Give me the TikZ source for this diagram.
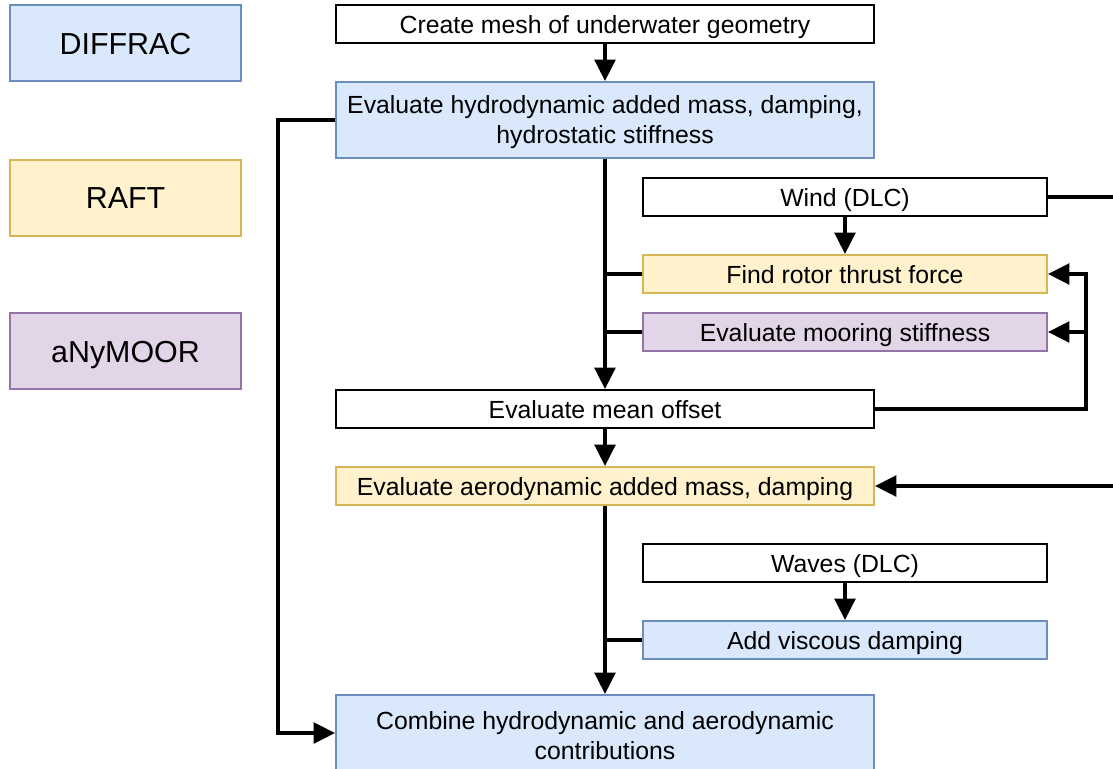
\documentclass[tikz,border=0pt]{standalone}
\usepackage{fontspec}
\setmainfont{Liberation Sans}
\usetikzlibrary{arrows.meta}
\definecolor{diffracfill}{HTML}{DAE8FC}
\definecolor{diffracline}{HTML}{6C8EBF}
\definecolor{raftfill}{HTML}{FFF2CC}
\definecolor{raftline}{HTML}{D6B656}
\definecolor{moorfill}{HTML}{E1D5E7}
\definecolor{moorline}{HTML}{9673A6}
\newcommand{\topstrut}{\rule{0pt}{17.2pt}}

\begin{document}
\begin{tikzpicture}[x=0.75pt, y=-0.75pt,
    box/.style={draw, line width=1.5pt, inner sep=0pt, align=center,
        font=\fontsize{18.6}{22.5}\selectfont, text height=17.7pt, text depth=3.9pt},
    wide/.style={box, minimum width=403.5pt, minimum height=28.5pt},
    side/.style={box, minimum width=303pt, minimum height=28.5pt},
    twoline/.style={minimum height=57pt, text height={}, text depth={}},
    legend/.style={box, minimum width=173.25pt, minimum height=57pt,
        font=\fontsize{22.8}{27}\selectfont, text height=21.7pt, text depth=4.8pt},
    diffrac/.style={fill=diffracfill, draw=diffracline},
    raft/.style={fill=raftfill, draw=raftline},
    moor/.style={fill=moorfill, draw=moorline},
    flow/.style={line width=2.6pt, -{Triangle[length=16pt,width=15.5pt]}},
    link/.style={line width=2.6pt}]
    \path[use as bounding box, clip] (0,0) rectangle (1113,768);

    \node[legend, diffrac] (legdiffrac) at (125.5,43) {DIFFRAC};
    \node[legend, raft] (legraft) at (125.5,197.5) {RAFT};
    \node[legend, moor] (legmoor) at (125.5,351) {aNyMOOR};

    \node[wide] (mesh) at (605,24) {Create mesh of underwater geometry};
    \node[wide, diffrac, twoline] (hydro) at (605,120) {\topstrut Evaluate hydrodynamic added mass, damping,\\hydrostatic stiffness};
    \node[side] (wind) at (845,197) {Wind (DLC)};
    \node[side, raft] (thrust) at (845,274) {Find rotor thrust force};
    \node[side, moor] (mooring) at (845,332) {Evaluate mooring stiffness};
    \node[wide] (offset) at (605,409) {Evaluate mean offset};
    \node[wide, raft] (aero) at (605,486) {Evaluate aerodynamic added mass, damping};
    \node[side] (waves) at (845,563) {Waves (DLC)};
    \node[side, diffrac] (viscous) at (845,640) {Add viscous damping};
    \node[wide, diffrac, twoline] (combine) at (605,733) {\topstrut Combine hydrodynamic and aerodynamic\\contributions};

    \draw[flow] (mesh) -- (hydro);
    \draw[flow] (hydro) -- (offset);
    \draw[flow] (offset) -- (aero);
    \draw[flow] (aero) -- (combine);
    \draw[flow] (wind) -- (thrust);
    \draw[flow] (waves) -- (viscous);
    \draw[link] (thrust.west) -- (thrust.west -| hydro.south);
    \draw[link] (mooring.west) -- (mooring.west -| hydro.south);
    \draw[link] (viscous.west) -- (viscous.west -| aero.south);
    \draw[flow] (offset.east) -- ++(211,0) |- (thrust.east);
    \draw[flow] (offset.east) -- ++(211,0) |- (mooring.east);
    \draw[flow] (wind.east) -- ++(90,0) |- (aero.east);
    \draw[flow] (hydro.west) -- ++(-57,0) |- (combine.west);
\end{tikzpicture}
\end{document}
